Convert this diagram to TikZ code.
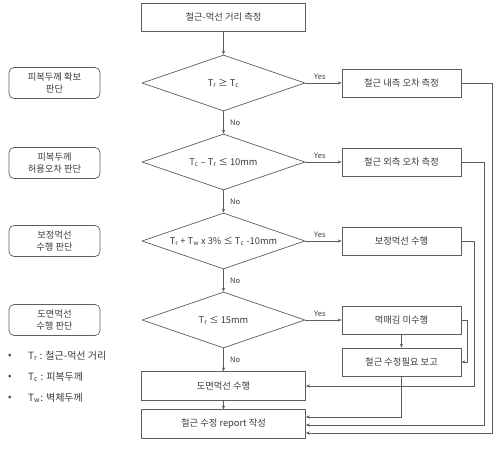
\documentclass[tikz,border=0pt]{standalone}
\usepackage{fontspec}
\setmainfont{Noto Sans CJK KR}
\usetikzlibrary{shapes.geometric,arrows.meta}
\definecolor{linec}{HTML}{5E5E5E}
\definecolor{txtc}{HTML}{3A3A3A}
\newcommand{\sbs}[1]{\textsubscript{#1}}
\begin{document}
\begin{tikzpicture}[x=1pt,y=-1pt,
  every node/.style={text=txtc},
  box/.style={draw=linec, line width=0.7pt, rectangle, inner sep=0pt,
     font=\fontsize{9.3}{11}\selectfont},
  bigbox/.style={box, minimum width=164pt, minimum height=28.5pt},
  sidebox/.style={box, minimum width=119pt, minimum height=28pt},
  cond/.style={draw=linec, line width=0.7pt, shape=diamond, aspect=2.9, inner sep=0pt,
     minimum width=163pt, minimum height=56pt, font=\fontsize{9.3}{10}\selectfont},
  lbox/.style={draw=linec, line width=0.7pt, rounded corners=5pt, inner sep=0pt,
     minimum width=91pt, minimum height=31pt, align=center,
     font=\fontsize{9.3}{11.5}\selectfont},
  conn/.style={draw=linec, line width=0.7pt},
  arr/.style={conn, -{Stealth[length=4pt,width=3.2pt]}},
  lab/.style={font=\fontsize{7.5}{8}\selectfont, text=txtc},
  leg/.style={anchor=west, font=\fontsize{10}{12}\selectfont, inner sep=0pt}]
\useasboundingbox (0,0) rectangle (501,449);

% main column
\node[bigbox] (top) at (223.5,17.5) {철근-먹선 거리 측정};
\node[cond] (d1) at (223.5,83) {T\sbs{r} ≥ T\sbs{c}};
\node[cond] (d2) at (223.5,162) {T\sbs{c} – T\sbs{r} ≤ 10mm};
\node[cond] (d3) at (223.5,241) {T\sbs{r} + T\sbs{w} x 3\% ≤ T\sbs{c} -10mm};
\node[cond] (d4) at (223.5,320) {T\sbs{r} ≤ 15mm};
\node[bigbox] (dm) at (223.5,386) {도면먹선 수행};
\node[bigbox] (rep) at (223.5,424) {철근 수정 report 작성};

% right column
\node[sidebox] (y1) at (401.5,83) {철근 내측 오차 측정};
\node[sidebox] (y2) at (401.5,162) {철근 외측 오차 측정};
\node[sidebox] (y3) at (401.5,241) {보정먹선 수행};
\node[sidebox] (y4) at (401.5,320) {먹매김 미수행};
\node[sidebox] (y5) at (401.5,362) {철근 수정필요 보고};

% left labels
\node[lbox] (l1) at (54.5,83) {피복두께 확보\\판단};
\node[lbox] (l2) at (54.5,163) {피복두께\\허용오차 판단};
\node[lbox] (l3) at (54.5,241) {보정먹선\\수행 판단};
\node[lbox] (l4) at (54.5,320) {도면먹선\\수행 판단};

% legend
\node[leg] (b1) at (8,356) {•};
\node[leg] (t1) at (28,356) {T\sbs{r} : 철근-먹선 거리};
\node[leg] (b2) at (8,377) {•};
\node[leg] (t2) at (28,377) {T\sbs{c} : 피복두께};
\node[leg] (b3) at (8,398) {•};
\node[leg] (t3) at (28,398) {T\sbs{w}: 벽체두께};

% vertical flow
\draw[arr] (top) -- (d1);
\draw[arr] (d1) -- node[lab, right, xshift=3pt] {No} (d2);
\draw[arr] (d2) -- node[lab, right, xshift=3pt] {No} (d3);
\draw[arr] (d3) -- node[lab, right, xshift=3pt] {No} (d4);
\draw[arr] (d4) -- node[lab, right, xshift=3pt] {No} (dm);
\draw[arr] (dm) -- (rep);

% yes branches
\draw[arr] (d1.east) -- node[lab, above, pos=0.4] {Yes} (y1.west);
\draw[arr] (d2.east) -- node[lab, above, pos=0.4] {Yes} (y2.west);
\draw[arr] (d3.east) -- node[lab, above, pos=0.4] {Yes} (y3.west);
\draw[arr] (d4.east) -- node[lab, above, pos=0.4] {Yes} (y4.west);

% return lines
\draw[arr] (y1.east) -- (492,83) |- ([yshift=-9pt]rep.east);
\draw[arr] (y2.east) -- (484,162) |- ([yshift=-1pt]rep.east);
\draw[arr] (y3.east) -- (474,241) |- (dm.east);
\draw[arr] (y4.east) -- (467,320) |- (y5.east);
\draw[arr] (y4) -- (y5);
\draw[arr] (y5.south) |- ([yshift=7pt]rep.east);
\end{tikzpicture}
\end{document}
